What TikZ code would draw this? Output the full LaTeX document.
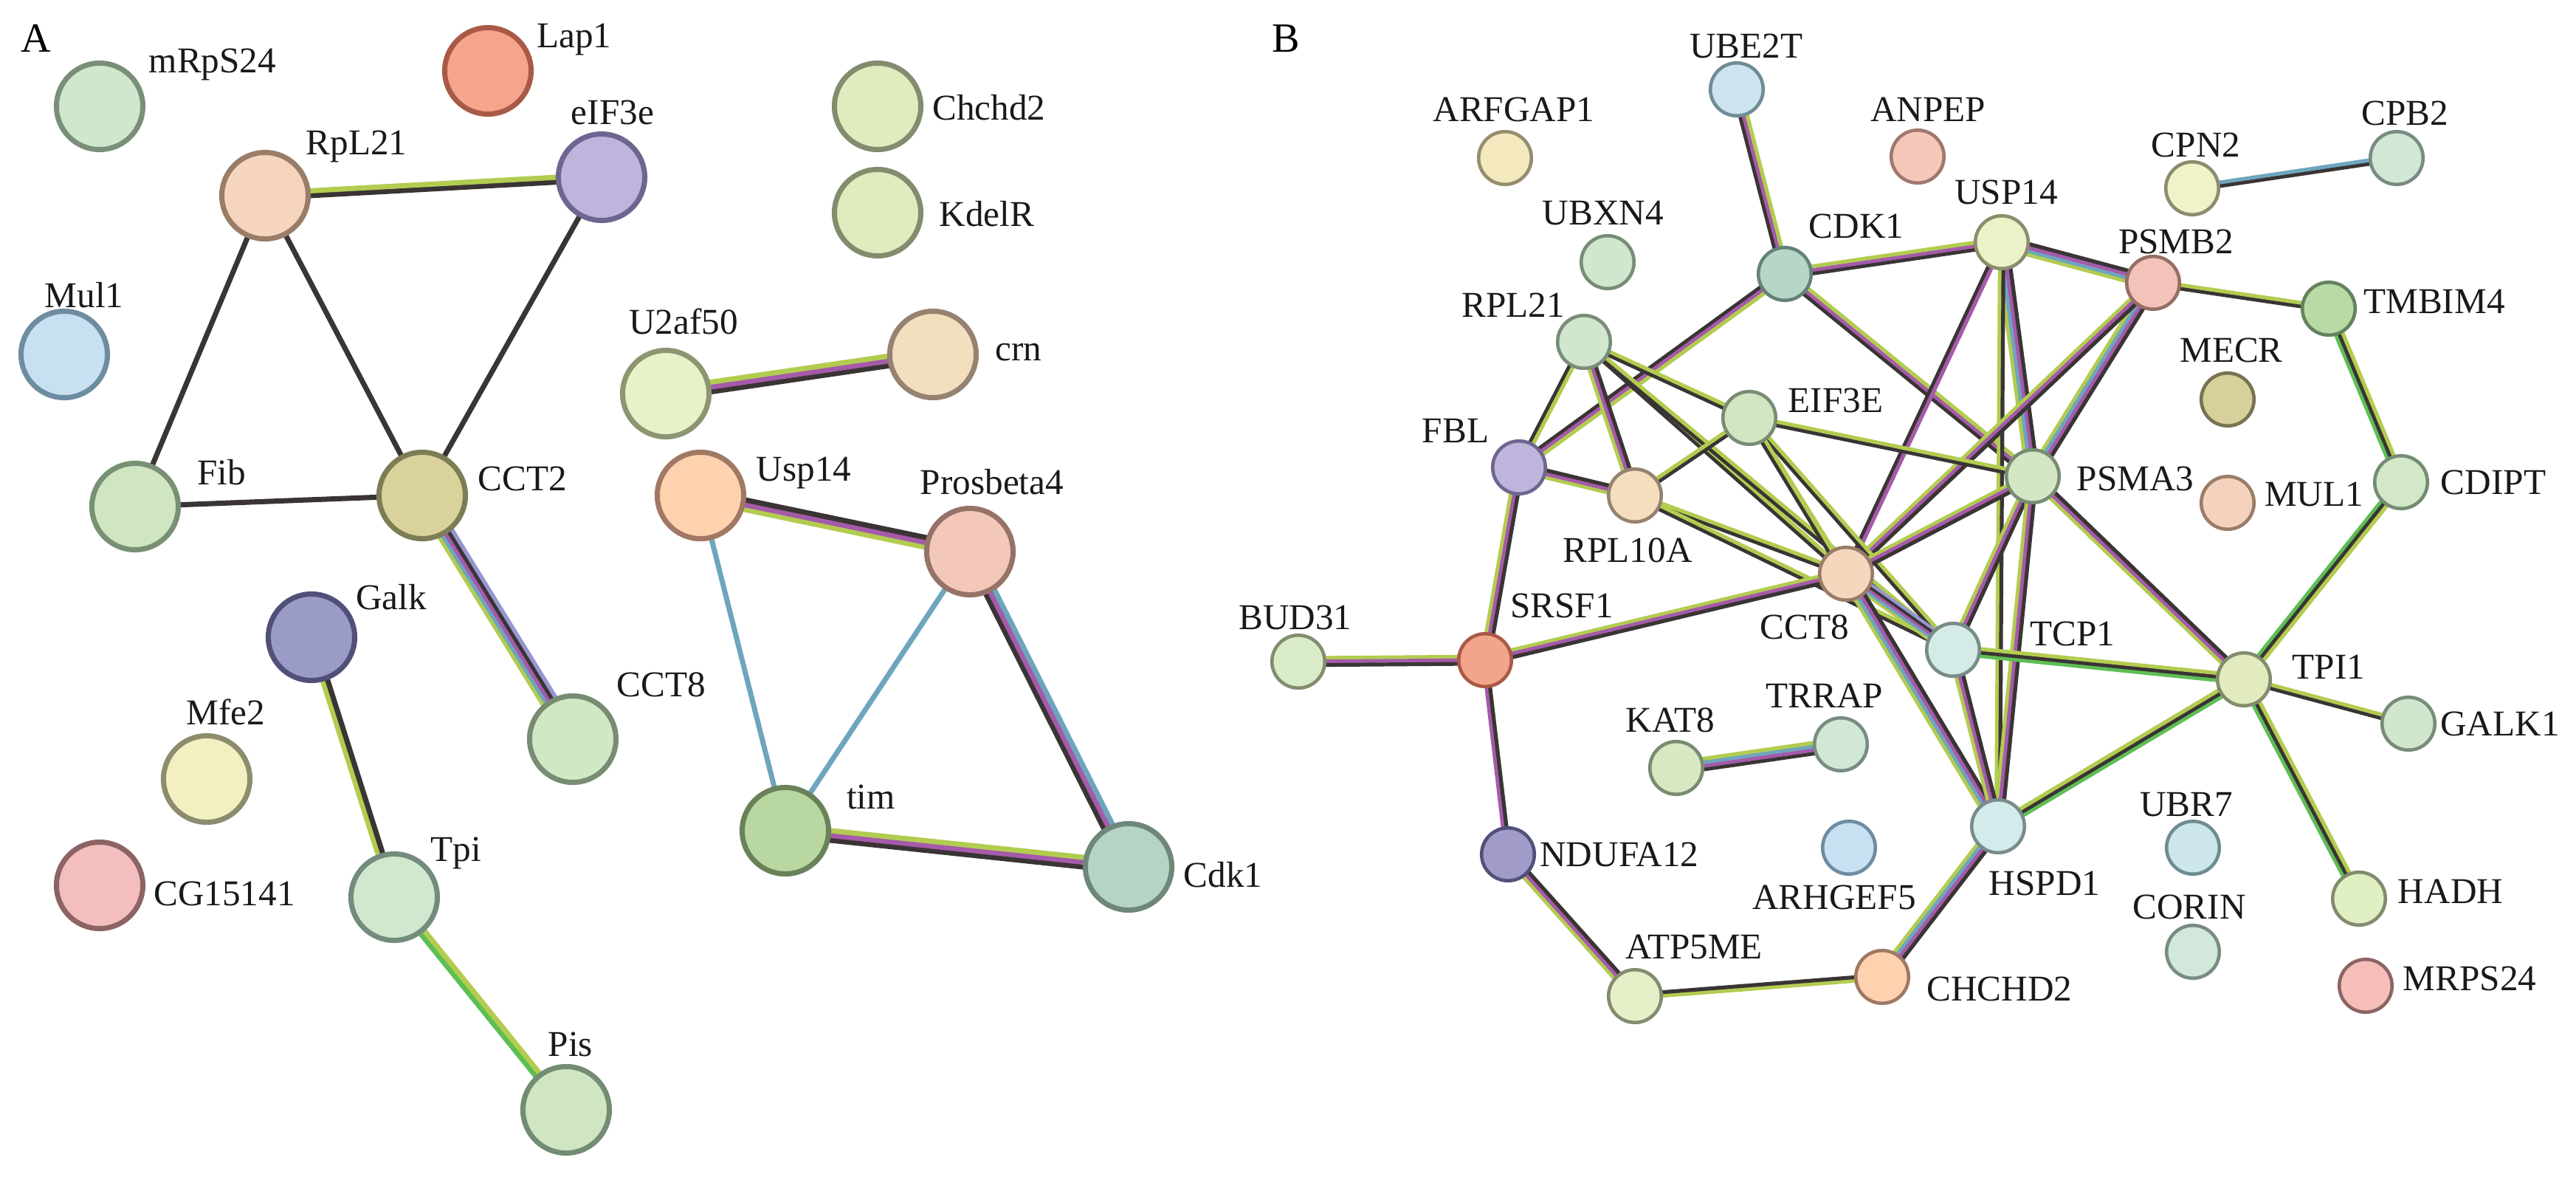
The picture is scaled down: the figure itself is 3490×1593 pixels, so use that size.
\documentclass[tikz,border=0pt]{standalone}
\usepackage{fontspec}
\setmainfont{Liberation Serif}
\usetikzlibrary{calc}
\pgfdeclarelayer{bgl}
\pgfdeclarelayer{edges}
\pgfsetlayers{bgl,edges,main}
% edge strand colours
\definecolor{eK}{RGB}{58,52,52}
\definecolor{eG}{RGB}{178,204,80}
\definecolor{eP}{RGB}{165,90,170}
\definecolor{eBl}{RGB}{110,165,190}
\definecolor{eL}{RGB}{150,150,210}
\definecolor{eN}{RGB}{93,190,85}
% bundle of parallel strands between two named nodes
\newcommand\bund[5]{%
  \foreach \cc [count=\ii] in {#5}{%
    \pgfmathsetmacro\off{(\ii-1-(#3-1)/2)*#4*0.01}%
    \pgfmathsetmacro\lw{#4*0.2845*1.08}%
    \draw[line width=\lw pt, color=\cc, line cap=butt]
      ($(#1.center)!\off cm!90:(#2.center)$) -- ($(#2.center)!\off cm!-90:(#1.center)$);
  }}
\newcommand\nd[5]{% style, name, pos, fill, border
  \definecolor{f#2}{HTML}{#4}\definecolor{d#2}{HTML}{#5}%
  \node[#1, fill=f#2, draw=d#2] (#2) at (#3) {};}
\begin{document}
\begin{tikzpicture}[x=0.01cm,y=-0.01cm,
  pa/.style={circle, line width=2pt, minimum size=1.17cm, inner sep=0pt},
  pb/.style={circle, line width=1.3pt, minimum size=0.715cm, inner sep=0pt},
  lab/.style={anchor=base, inner sep=0pt, font=\fontsize{14}{17}\selectfont, text=black!90},
  big/.style={anchor=base, inner sep=0pt, font=\fontsize{16}{19}\selectfont}]
\useasboundingbox (0,0) rectangle (3490,1593);
\begin{pgfonlayer}{bgl}
\fill[white] (0,0) rectangle (3490,1593);
\end{pgfonlayer}

% ---------------- Panel A nodes ----------------
\nd{pa}{aMrps}{135,144}{D0E6CD}{7A8F78}
\nd{pa}{aLap}{661,96}{F5A58C}{A85A46}
\nd{pa}{aRpl}{359,265}{F5D5BE}{9A7D68}
\nd{pa}{aEif}{815,240}{BEB4DC}{6E6690}
\nd{pa}{aMul}{87,480}{C8E1F2}{6E8CA0}
\nd{pa}{aFib}{183,686}{D0E6C3}{789073}
\nd{pa}{aCct2}{572,671}{DAD29B}{7D7D55}
\nd{pa}{aU2af}{902,533}{E8F2C8}{8C9673}
\nd{pa}{aChch}{1189,144}{E0EBBE}{828C6E}
\nd{pa}{aKdel}{1189,288}{E0EBBE}{828C6E}
\nd{pa}{aCrn}{1264,480}{F3DFBE}{968270}
\nd{pa}{aUsp}{949,671}{FFD2AF}{A07864}
\nd{pa}{aPros}{1314,747}{F3C8B9}{967369}
\nd{pa}{aGalk}{422,863}{9B9BC8}{505078}
\nd{pa}{aCct8}{776,1001}{D0E8C3}{788C73}
\nd{pa}{aMfe}{280,1055}{F2F0C0}{8C8C6E}
\nd{pa}{aCg}{135,1199}{F5BEBE}{8C6464}
\nd{pa}{aTpi}{534,1215}{D0E8CD}{738C7D}
\nd{pa}{aPis}{767,1503}{D0E6C3}{738C73}
\nd{pa}{aTim}{1064,1125}{B9D7A0}{69825A}
\nd{pa}{aCdk}{1529,1174}{B6D4C4}{6E8778}

% ---------------- Panel B nodes ----------------
\nd{pb}{bUbe}{2353,121}{CDE4EE}{6E8C96}
\nd{pb}{bArf}{2039,214}{F3E8BE}{968C6E}
\nd{pb}{bAnp}{2598,212}{F5C8B9}{A0786E}
\nd{pb}{bCpn}{2970,255}{F2F2C8}{8C8C6E}
\nd{pb}{bCpb}{3247,214}{D2E8D7}{788C82}
\nd{pb}{bUbx}{2178,355}{D0E6CD}{788C78}
\nd{pb}{bCdk}{2418,371}{B6D7C8}{648278}
\nd{pb}{bUsp}{2712,328}{EBF2C8}{8C8C6E}
\nd{pb}{bPsmb}{2917,383}{F3C3B9}{966E64}
\nd{pb}{bTmb}{3155,418}{B9DAA5}{64825F}
\nd{pb}{bRpl21}{2146,463}{D0E6CD}{788C78}
\nd{pb}{bEif}{2370,566}{D2E6C3}{788C73}
\nd{pb}{bMecr}{3018,541}{D7D09B}{787350}
\nd{pb}{bFbl}{2058,633}{BEB4DC}{6E6690}
\nd{pb}{bRpl10}{2215,671}{F5DEBE}{968270}
\nd{pb}{bPsma}{2754,645}{D4E6C3}{788C73}
\nd{pb}{bMul}{3018,681}{F5D2BE}{9A7D68}
\nd{pb}{bCdipt}{3253,653}{D2E8C8}{738C73}
\nd{pb}{bCct8}{2501,777}{F5D7BE}{9A7D68}
\nd{pb}{bSrsf}{2012,894}{F3A58C}{A85A46}
\nd{pb}{bBud}{1759,896}{DAEBC8}{828C6E}
\nd{pb}{bTcp}{2646,880}{D4EBE8}{788C87}
\nd{pb}{bTpi}{3040,920}{E1EBBE}{828C6E}
\nd{pb}{bGalk}{3263,980}{D0E6CD}{788C78}
\nd{pb}{bKat}{2271,1040}{D7E8C3}{788C73}
\nd{pb}{bTrr}{2494,1008}{D2E8D7}{788C82}
\nd{pb}{bNduf}{2043,1157}{A09BC8}{505078}
\nd{pb}{bArh}{2505,1148}{C8E1F2}{6E8CA0}
\nd{pb}{bHsp}{2707,1119}{D4EBEB}{788C8C}
\nd{pb}{bUbr}{2971,1148}{CDE6EB}{6E8C91}
\nd{pb}{bCor}{2971,1289}{D2E8DA}{788C82}
\nd{pb}{bHadh}{3196,1217}{E1F0C3}{828C6E}
\nd{pb}{bMrps}{3205,1335}{F5BEB9}{8C6464}
\nd{pb}{bAtp}{2215,1349}{E6F0C8}{828C6E}
\nd{pb}{bChch}{2550,1323}{FFD2AF}{A07864}

% ---------------- Edges ----------------
\begin{pgfonlayer}{edges}
% panel A
\def\wa{6.5}
\bund{aRpl}{aEif}{2}{\wa}{eK,eG}
\bund{aRpl}{aFib}{1}{\wa}{eK}
\bund{aRpl}{aCct2}{1}{\wa}{eK}
\bund{aEif}{aCct2}{1}{\wa}{eK}
\bund{aFib}{aCct2}{1}{\wa}{eK}
\bund{aCct2}{aCct8}{5}{5}{eG,eBl,eP,eK,eL}
\bund{aU2af}{aCrn}{3}{\wa}{eK,eP,eG}
\bund{aUsp}{aPros}{3}{\wa}{eG,eP,eK}
\bund{aUsp}{aTim}{1}{\wa}{eBl}
\bund{aPros}{aTim}{1}{\wa}{eBl}
\bund{aPros}{aCdk}{3}{\wa}{eK,eP,eBl}
\bund{aTim}{aCdk}{3}{\wa}{eK,eP,eG}
\bund{aGalk}{aTpi}{2}{\wa}{eG,eK}
\bund{aTpi}{aPis}{2}{\wa}{eN,eG}
% panel B
\def\w{4.8}
\bund{bUbe}{bCdk}{3}{\w}{eK,eP,eG}
\bund{bCdk}{bUsp}{3}{\w}{eK,eP,eG}
\bund{bCdk}{bFbl}{3}{\w}{eK,eP,eG}
\bund{bCdk}{bPsma}{3}{\w}{eK,eP,eG}
\bund{bUsp}{bPsmb}{4}{\w}{eG,eBl,eP,eK}
\bund{bUsp}{bPsma}{4}{\w}{eG,eBl,eP,eK}
\bund{bUsp}{bCct8}{2}{\w}{eK,eP}
\bund{bUsp}{bHsp}{2}{\w}{eG,eK}
\bund{bPsmb}{bTmb}{2}{\w}{eK,eG}
\bund{bPsmb}{bPsma}{4}{\w}{eG,eBl,eP,eK}
\bund{bPsmb}{bCct8}{3}{\w}{eG,eP,eK}
\bund{bTmb}{bCdipt}{3}{\w}{eN,eK,eG}
\bund{bCdipt}{bTpi}{3}{\w}{eN,eK,eG}
\bund{bRpl21}{bFbl}{2}{\w}{eK,eG}
\bund{bRpl21}{bRpl10}{3}{\w}{eG,eP,eK}
\bund{bRpl21}{bEif}{2}{\w}{eK,eG}
\bund{bRpl21}{bCct8}{2}{\w}{eK,eG}
\bund{bRpl21}{bTcp}{2}{\w}{eK,eG}
\bund{bFbl}{bRpl10}{3}{\w}{eG,eP,eK}
\bund{bFbl}{bSrsf}{3}{\w}{eG,eP,eK}
\bund{bRpl10}{bEif}{2}{\w}{eK,eG}
\bund{bRpl10}{bCct8}{2}{\w}{eK,eG}
\bund{bRpl10}{bTcp}{2}{\w}{eK,eG}
\bund{bEif}{bPsma}{2}{\w}{eK,eG}
\bund{bEif}{bCct8}{2}{\w}{eK,eG}
\bund{bEif}{bTcp}{2}{\w}{eK,eG}
\bund{bEif}{bHsp}{2}{\w}{eK,eG}
\bund{bPsma}{bCct8}{3}{\w}{eG,eP,eK}
\bund{bPsma}{bTcp}{3}{\w}{eG,eP,eK}
\bund{bPsma}{bHsp}{3}{\w}{eG,eP,eK}
\bund{bPsma}{bTpi}{3}{\w}{eG,eP,eK}
\bund{bCct8}{bSrsf}{3}{\w}{eG,eP,eK}
\bund{bCct8}{bTcp}{5}{3.8}{eG,eBl,eP,eK,eL}
\bund{bCct8}{bHsp}{4}{\w}{eG,eBl,eP,eK}
\bund{bTcp}{bHsp}{3}{\w}{eG,eP,eK}
\bund{bTcp}{bTpi}{3}{\w}{eN,eK,eG}
\bund{bHsp}{bTpi}{3}{\w}{eN,eK,eG}
\bund{bHsp}{bChch}{4}{\w}{eG,eBl,eP,eK}
\bund{bTpi}{bGalk}{2}{\w}{eK,eG}
\bund{bTpi}{bHadh}{3}{\w}{eN,eK,eG}
\bund{bSrsf}{bBud}{3}{\w}{eG,eP,eK}
\bund{bSrsf}{bNduf}{2}{\w}{eP,eK}
\bund{bNduf}{bAtp}{3}{\w}{eG,eP,eK}
\bund{bAtp}{bChch}{2}{\w}{eG,eK}
\bund{bKat}{bTrr}{4}{\w}{eK,eP,eBl,eG}
\bund{bCpn}{bCpb}{2}{\w}{eK,eBl}
\end{pgfonlayer}

% ---------------- Labels ----------------
\node[big] (tA) at (49,70) {A};
\node[lab] (lMrps) at (288,98) {mRpS24};
\node[lab] (lLap) at (778,64) {Lap1};
\node[lab] (lRpl) at (483,209) {RpL21};
\node[lab] (lEif) at (830,168) {eIF3e};
\node[lab] (lMul) at (114,416) {Mul1};
\node[lab] (lFib) at (300,656) {Fib};
\node[lab] (lCct2) at (708,664) {CCT2};
\node[lab] (lU2af) at (926,452) {U2af50};
\node[lab] (lChch) at (1340,162) {Chchd2};
\node[lab] (lKdel) at (1337,306) {KdelR};
\node[lab] (lCrn) at (1380,488) {crn};
\node[lab] (lUsp) at (1089,651) {Usp14};
\node[lab] (lPros) at (1344,669) {Prosbeta4};
\node[lab] (lGalk) at (530,825) {Galk};
\node[lab] (lCct8) at (896,943) {CCT8};
\node[lab] (lMfe) at (306,981) {Mfe2};
\node[lab] (lCg) at (304,1226) {CG15141};
\node[lab] (lTpi) at (618,1166) {Tpi};
\node[lab] (lPis) at (773,1430) {Pis};
\node[lab] (lTim) at (1180,1095) {tim};
\node[lab] (lCdk) at (1657,1201) {Cdk1};

\node[big] (tB) at (1742,70) {B};
\node[lab] (mUbe) at (2366,78) {UBE2T};
\node[lab] (mArf) at (2051,164) {ARFGAP1};
\node[lab] (mAnp) at (2612,164) {ANPEP};
\node[lab] (mCpn) at (2975,212) {CPN2};
\node[lab] (mCpb) at (3258,169) {CPB2};
\node[lab] (mUbx) at (2172,304) {UBXN4};
\node[lab] (mCdk) at (2515,322) {CDK1};
\node[lab] (mUsp) at (2718,276) {USP14};
\node[lab] (mPsmb) at (2948,343) {PSMB2};
\node[lab] (mTmb) at (3298,424) {TMBIM4};
\node[lab] (mRpl21) at (2050,429) {RPL21};
\node[lab] (mEif) at (2487,558) {EIF3E};
\node[lab] (mMecr) at (3023,490) {MECR};
\node[lab] (mFbl) at (1972,599) {FBL};
\node[lab] (mRpl10) at (2205,761) {RPL10A};
\node[lab] (mPsma) at (2893,664) {PSMA3};
\node[lab] (mMul) at (3135,685) {MUL1};
\node[lab] (mCdipt) at (3378,669) {CDIPT};
\node[lab] (mSrsf) at (2116,836) {SRSF1};
\node[lab] (mBud) at (1755,852) {BUD31};
\node[lab] (mCct8) at (2445,865) {CCT8};
\node[lab] (mTcp) at (2808,874) {TCP1};
\node[lab] (mTpi) at (3155,919) {TPI1};
\node[lab] (mGalk) at (3387,996) {GALK1};
\node[lab] (mKat) at (2263,991) {KAT8};
\node[lab] (mTrr) at (2472,958) {TRRAP};
\node[lab] (mNduf) at (2194,1173) {NDUFA12};
\node[lab] (mArh) at (2485,1231) {ARHGEF5};
\node[lab] (mHsp) at (2770,1212) {HSPD1};
\node[lab] (mUbr) at (2962,1105) {UBR7};
\node[lab] (mCor) at (2966,1244) {CORIN};
\node[lab] (mHadh) at (3320,1223) {HADH};
\node[lab] (mMrps) at (3346,1341) {MRPS24};
\node[lab] (mAtp) at (2295,1298) {ATP5ME};
\node[lab] (mChch) at (2709,1355) {CHCHD2};
\end{tikzpicture}
\end{document}
